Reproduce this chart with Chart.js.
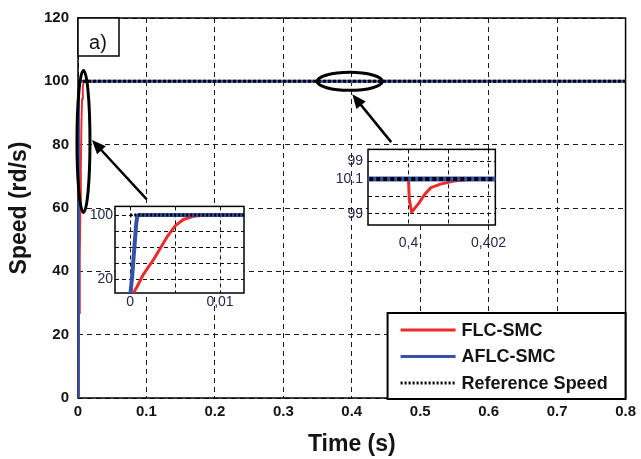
<!DOCTYPE html>
<html>
<head>
<meta charset="utf-8">
<title>Speed response</title>
<script src="https://cdn.jsdelivr.net/npm/chart.js@4.4.1/dist/chart.umd.min.js"></script>
<style>
  body { margin: 0; background: #fff; }
  #wrap { position: relative; width: 641px; height: 459px; }
  canvas { position: absolute; }
</style>
</head>
<body>
<div id="wrap">
  <canvas id="mainChart" width="641" height="459" style="left:0;top:0"></canvas>
  <canvas id="zoomStart" width="168" height="116" style="left:84px;top:196px"></canvas>
  <canvas id="zoomLoad" width="192" height="118" style="left:325px;top:136px"></canvas>
</div>
<script>
// speed response (rd/s) against time (s)
const flcTime  = [0, 0.00033, 0.00074, 0.00148, 0.00259, 0.00333, 0.00408, 0.005, 0.00592, 0.00703, 0.00814, 0.01,
                  0.4, 0.40002, 0.40008, 0.40024, 0.4004, 0.40056, 0.4008, 0.40113, 0.40153, 0.402, 0.8];
const flcSpeed = [0, 2.9, 10.8, 26.8, 44.7, 58.6, 72.5, 86.5, 94.4, 98.4, 99.6, 100,
                  100, 99.76, 99.62, 99.71, 99.82, 99.9, 99.94, 99.976, 99.993, 100, 100];

const aflcTime  = [0, 0.0002, 0.00045, 0.00067, 0.0008, 0.001, 0.8];
const aflcSpeed = [0, 22.8, 58.6, 90, 99.6, 100, 100];

const refTime  = [0, 0.8];
const refSpeed = [100, 100];

// axis ticks
const timeTicks  = [0, 0.1, 0.2, 0.3, 0.4, 0.5, 0.6, 0.7, 0.8];
const timeLabels = ['0', '0.1', '0.2', '0.3', '0.4', '0.5', '0.6', '0.7', '0.8'];
const speedTicks = [0, 20, 40, 60, 80, 100, 120];

// zoom windows
const startTicks   = [0, 0.005, 0.01];
const startLabels  = ['0', '', '0,01'];
const startSpeedTicks  = [20, 40, 60, 80, 100];
const startSpeedLabels = ['20', '', '', '', '100'];

const loadTicks   = [0.4, 0.401, 0.402];
const loadLabels  = ['0,4', '', '0,402'];
const loadSpeedTicks  = [99.6, 99.8, 100, 100.2];
const loadSpeedLabels = ['99', '', '10.1', '99'];

const RED = '#ee2b2b';
const BLUE = '#3552a8';
const INK = '#141414';
const FONT = "'Liberation Sans', Arial, sans-serif";

function toPoints(xs, ys) {
    return xs.map((x, i) => ({ x: x, y: ys[i] }));
}

function fixedTicks(values) {
    return function (scale) {
        scale.ticks = values.map(v => ({ value: v }));
    };
}

function buildDatasets(w) {
    return [
        { label: 'FLC-SMC', data: toPoints(flcTime, flcSpeed), borderColor: RED, borderWidth: w.red, order: 3 },
        { label: 'AFLC-SMC', data: toPoints(aflcTime, aflcSpeed), borderColor: BLUE, borderWidth: w.blue, order: 2 },
        { label: 'Reference Speed', data: toPoints(refTime, refSpeed), borderColor: '#000',
          borderWidth: w.ref, borderDash: w.dash, order: 1 }
    ];
}

// white plot area + solid frame
const whiteArea = {
    id: 'whiteArea',
    beforeDraw(chart) {
        const a = chart.chartArea, ctx = chart.ctx;
        ctx.save();
        ctx.fillStyle = '#fff';
        ctx.fillRect(a.left, a.top, a.right - a.left, a.bottom - a.top);
        ctx.restore();
    }
};

const frame = {
    id: 'frame',
    beforeDatasetsDraw(chart) {
        const a = chart.chartArea, ctx = chart.ctx;
        ctx.save();
        ctx.strokeStyle = '#000';
        ctx.lineWidth = 1.5;
        ctx.strokeRect(a.left, a.top, a.right - a.left, a.bottom - a.top);
        ctx.restore();
    }
};

function drawArrow(ctx, x1, y1, x2, y2) {
    const ang = Math.atan2(y2 - y1, x2 - x1);
    const len = 14, half = 6;
    ctx.beginPath();
    ctx.moveTo(x1, y1);
    ctx.lineTo(x2 - (len - 2) * Math.cos(ang), y2 - (len - 2) * Math.sin(ang));
    ctx.stroke();
    ctx.beginPath();
    ctx.moveTo(x2, y2);
    ctx.lineTo(x2 - len * Math.cos(ang) + half * Math.sin(ang), y2 - len * Math.sin(ang) - half * Math.cos(ang));
    ctx.lineTo(x2 - len * Math.cos(ang) - half * Math.sin(ang), y2 - len * Math.sin(ang) + half * Math.cos(ang));
    ctx.closePath();
    ctx.fill();
}

// ellipses, arrows, "a)" tag and the legend box
const decorations = {
    id: 'decorations',
    afterDraw(chart) {
        const ctx = chart.ctx, a = chart.chartArea;
        const xs = chart.scales.x, ys = chart.scales.y;
        const px = t => xs.getPixelForValue(t);
        const py = v => ys.getPixelForValue(v);

        ctx.save();
        ctx.strokeStyle = '#000';
        ctx.fillStyle = '#000';
        ctx.lineWidth = 3;

        ctx.beginPath();
        ctx.ellipse(px(0.008), py(81), 6.5, 71, 0, 0, Math.PI * 2);
        ctx.stroke();
        ctx.beginPath();
        ctx.ellipse(px(0.397), py(100), 32.5, 9, 0, 0, Math.PI * 2);
        ctx.stroke();

        ctx.lineWidth = 2.5;
        drawArrow(ctx, px(0.1005), py(62.7), px(0.0204), py(81.5));
        drawArrow(ctx, px(0.4576), py(80.8), px(0.4007), py(95.9));

        // a) tag
        ctx.lineWidth = 1.5;
        ctx.fillStyle = '#fff';
        ctx.fillRect(a.left, a.top, 41, 38);
        ctx.strokeRect(a.left, a.top, 41, 38);
        ctx.fillStyle = INK;
        ctx.font = '20px ' + FONT;
        ctx.textAlign = 'center';
        ctx.textBaseline = 'alphabetic';
        ctx.fillText('a)', a.left + 20, a.top + 31);

        // legend
        const bx = a.right - 238, by = a.bottom - 85;
        ctx.fillStyle = '#fff';
        ctx.fillRect(bx, by, a.right - bx, a.bottom + 1 - by);
        ctx.lineWidth = 2;
        ctx.strokeStyle = '#000';
        ctx.strokeRect(bx, by, a.right - bx, a.bottom + 1 - by);
        ctx.font = 'bold 18px ' + FONT;
        ctx.textAlign = 'left';
        ctx.textBaseline = 'middle';
        chart.data.datasets.forEach((ds, i) => {
            const y = by + 17 + i * 26.5;
            ctx.strokeStyle = ds.borderColor;
            ctx.lineWidth = 3;
            ctx.setLineDash(ds.borderDash ? [2, 2] : []);
            ctx.beginPath();
            ctx.moveTo(bx + 13, y);
            ctx.lineTo(bx + 68, y);
            ctx.stroke();
            ctx.setLineDash([]);
            ctx.fillStyle = INK;
            ctx.fillText(ds.label, bx + 74, y + 1);
        });
        ctx.restore();
    }
};

new Chart(document.getElementById('mainChart'), {
    type: 'line',
    data: { datasets: buildDatasets({ red: 2, blue: 3, ref: 3, dash: [3, 2] }) },
    options: {
        responsive: false,
        animation: false,
        devicePixelRatio: 1,
        layout: { padding: { top: 15, right: 14, left: 0, bottom: 0 } },
        plugins: { legend: { display: false }, tooltip: { enabled: false } },
        elements: { point: { radius: 0 }, line: { tension: 0, fill: false, borderJoinStyle: 'round' } },
        scales: {
            x: {
                type: 'linear',
                min: 0,
                max: 0.8,
                afterBuildTicks: fixedTicks(timeTicks),
                afterFit: s => { s.height = 61; },
                ticks: {
                    autoSkip: false, maxRotation: 0, padding: 5, color: INK,
                    font: { family: FONT, size: 15, weight: 'bold' },
                    callback: (v, i) => timeLabels[i]
                },
                grid: { color: '#1a1a1a', lineWidth: 1, drawTicks: false },
                border: { display: false, dash: [5, 4] },
                title: {
                    display: true, text: 'Time (s)', color: INK,
                    font: { family: FONT, size: 23, weight: 'bold', lineHeight: 1.2 },
                    padding: { top: 0, bottom: 1 }
                }
            },
            y: {
                type: 'linear',
                min: 0,
                max: 120,
                afterBuildTicks: fixedTicks(speedTicks),
                afterFit: s => { s.width = 78; },
                ticks: {
                    autoSkip: false, padding: 9, color: INK,
                    font: { family: FONT, size: 15, weight: 'bold' }
                },
                grid: { color: '#1a1a1a', lineWidth: 1, drawTicks: false },
                border: { display: false, dash: [5, 4] },
                title: {
                    display: true, text: 'Speed (rd/s)', color: INK,
                    font: { family: FONT, size: 23, weight: 'bold', lineHeight: 1.2 },
                    padding: { top: 6, bottom: 0 }
                }
            }
        }
    },
    plugins: [whiteArea, frame, decorations]
});

function makeZoom(id, cfg) {
    new Chart(document.getElementById(id), {
        type: 'line',
        data: { datasets: buildDatasets(cfg.widths) },
        options: {
            responsive: false,
            animation: false,
            devicePixelRatio: 1,
            layout: { padding: { top: cfg.padTop, right: cfg.padRight, left: 0, bottom: 0 } },
            plugins: { legend: { display: false }, tooltip: { enabled: false } },
            elements: { point: { radius: 0 }, line: { tension: 0, fill: false, borderJoinStyle: 'round' } },
            scales: {
                x: {
                    type: 'linear',
                    min: cfg.xMin,
                    max: cfg.xMax,
                    afterBuildTicks: fixedTicks(cfg.xTicks),
                    afterFit: s => { s.height = cfg.xHeight; },
                    ticks: {
                        autoSkip: false, maxRotation: 0, padding: cfg.xPad, color: '#24264a',
                        font: { family: FONT, size: 14 },
                        callback: (v, i) => cfg.xLabels[i]
                    },
                    grid: { color: '#111', lineWidth: 1, drawTicks: false },
                    border: { display: false, dash: [4, 3] }
                },
                y: {
                    type: 'linear',
                    min: cfg.yMin,
                    max: cfg.yMax,
                    afterBuildTicks: fixedTicks(cfg.yTicks),
                    afterFit: s => { s.width = cfg.yWidth; },
                    ticks: {
                        autoSkip: false, padding: cfg.yPad, color: '#24264a',
                        font: { family: FONT, size: 14 },
                        callback: (v, i) => cfg.yLabels[i]
                    },
                    grid: { color: '#111', lineWidth: 1, drawTicks: false },
                    border: { display: false, dash: [4, 3] }
                }
            }
        },
        plugins: [whiteArea, frame]
    });
}

makeZoom('zoomStart', {
    xMin: -0.0017, xMax: 0.01267, yMin: 3.3, yMax: 110.7,
    xTicks: startTicks, xLabels: startLabels, yTicks: startSpeedTicks, yLabels: startSpeedLabels,
    padTop: 7, padRight: 8, xHeight: 19, yWidth: 31, xPad: 1, yPad: 2,
    widths: { red: 3, blue: 4, ref: 3, dash: [2, 2] }
});

makeZoom('zoomLoad', {
    xMin: 0.398988, xMax: 0.402169, yMin: 99.47, yMax: 100.34,
    xTicks: loadTicks, xLabels: loadLabels, yTicks: loadSpeedTicks, yLabels: loadSpeedLabels,
    padTop: 7, padRight: 17, xHeight: 29, yWidth: 43, xPad: 10, yPad: 5,
    widths: { red: 3, blue: 5, ref: 4, dash: [4, 3] }
});
</script>
</body>
</html>
